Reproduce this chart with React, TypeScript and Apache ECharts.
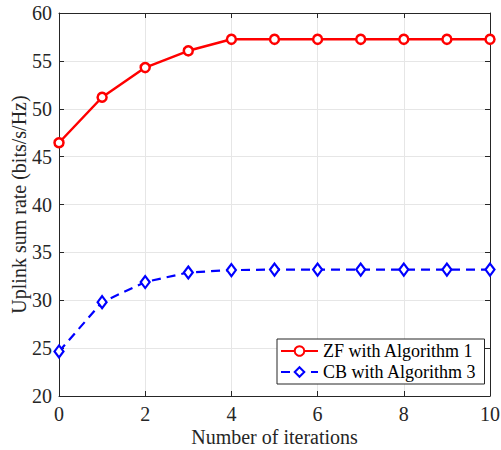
import React, { useEffect, useRef } from "react";
import * as echarts from "echarts";

const iterations = [0, 1, 2, 3, 4, 5, 6, 7, 8, 9, 10];
const zfRates = [46.45, 51.2, 54.3, 56.05, 57.25, 57.25, 57.25, 57.25, 57.25, 57.25, 57.25];
const cbRates = [24.65, 29.8, 31.9, 32.9, 33.15, 33.2, 33.2, 33.2, 33.2, 33.2, 33.2];
const seriesNames = ["ZF with Algorithm 1", "CB with Algorithm 3"];
const xAxisTitle = "Number of iterations";
const yAxisTitle = "Uplink sum rate (bits/s/Hz)";

const FONT = "Liberation Serif";
const AXIS_COLOR = "#262626";

export default function App() {
  const ref = useRef<HTMLDivElement>(null);
  useEffect(() => {
    if (!ref.current) return;
    const chart = echarts.init(ref.current, undefined, { renderer: "svg" });
    const zfData = iterations.map((x, i) => [x, zfRates[i]]);
    const cbData = iterations.map((x, i) => [x, cbRates[i]]);
    const baseX = {
      type: "value" as const,
      min: 0,
      max: 10,
      interval: 2,
      axisLine: { show: true, onZero: false, lineStyle: { color: AXIS_COLOR, width: 1 } },
      axisTick: { show: true, inside: true, length: 5, lineStyle: { color: AXIS_COLOR } },
    };
    const baseY = {
      type: "value" as const,
      min: 20,
      max: 60,
      interval: 5,
      axisLine: { show: true, onZero: false, lineStyle: { color: AXIS_COLOR, width: 1 } },
      axisTick: { show: true, inside: true, length: 5, lineStyle: { color: AXIS_COLOR } },
    };
    chart.setOption({
      animation: false,
      backgroundColor: "#ffffff",
      grid: { left: 59, right: 11, top: 13, bottom: 54, containLabel: false, outerBoundsMode: "none" },
      xAxis: [
        {
          ...baseX,
          position: "bottom",
          name: xAxisTitle,
          nameLocation: "middle",
          nameGap: 31,
          nameMoveOverlap: false,
          nameTextStyle: { fontFamily: FONT, fontSize: 20, color: AXIS_COLOR },
          axisLabel: { fontFamily: FONT, fontSize: 20, color: AXIS_COLOR, margin: 8 },
          splitLine: { show: true, lineStyle: { color: "#e6e6e6", width: 1 } },
        },
        {
          ...baseX,
          position: "top",
          axisLabel: { show: false },
          splitLine: { show: false },
        },
      ],
      yAxis: [
        {
          ...baseY,
          position: "left",
          name: yAxisTitle,
          nameLocation: "middle",
          nameGap: 30,
          nameMoveOverlap: false,
          nameTextStyle: { fontFamily: FONT, fontSize: 20, color: AXIS_COLOR },
          axisLabel: { fontFamily: FONT, fontSize: 20, color: AXIS_COLOR, margin: 7 },
          splitLine: { show: true, lineStyle: { color: "#e6e6e6", width: 1 } },
        },
        {
          ...baseY,
          position: "right",
          axisLabel: { show: false },
          splitLine: { show: false },
        },
      ],
      legend: {
        show: true,
        orient: "vertical",
        left: 277,
        top: 339,
        width: 206,
        itemWidth: 37,
        itemHeight: 12,
        itemGap: 3,
        padding: [3, 8, 3, 3],
        borderColor: AXIS_COLOR,
        borderWidth: 1,
        backgroundColor: "#ffffff",
        textStyle: { fontFamily: FONT, fontSize: 18, color: "#000" },
        data: seriesNames,
      },
      series: [
        {
          name: seriesNames[0],
          type: "line",
          data: zfData,
          xAxisIndex: 0,
          yAxisIndex: 0,
          symbol: "circle",
          symbolSize: 9,
          color: "#ff0000",
          lineStyle: { color: "#ff0000", width: 2.5 },
          itemStyle: { color: "#ffffff", borderColor: "#ff0000", borderWidth: 2.5 },
          z: 3,
        },
        {
          name: seriesNames[1],
          type: "line",
          data: cbData,
          xAxisIndex: 0,
          yAxisIndex: 0,
          symbol: "diamond",
          symbolSize: [9, 12],
          color: "#0000ff",
          lineStyle: { color: "#0000ff", width: 2.2, type: [9, 6] },
          itemStyle: { color: "#ffffff", borderColor: "#0000ff", borderWidth: 2.2 },
          z: 3,
        },
      ],
    });
    return () => chart.dispose();
  }, []);
  return <div ref={ref} style={{ width: 501, height: 450, position: "absolute", left: 0, top: 0 }} />;
}
